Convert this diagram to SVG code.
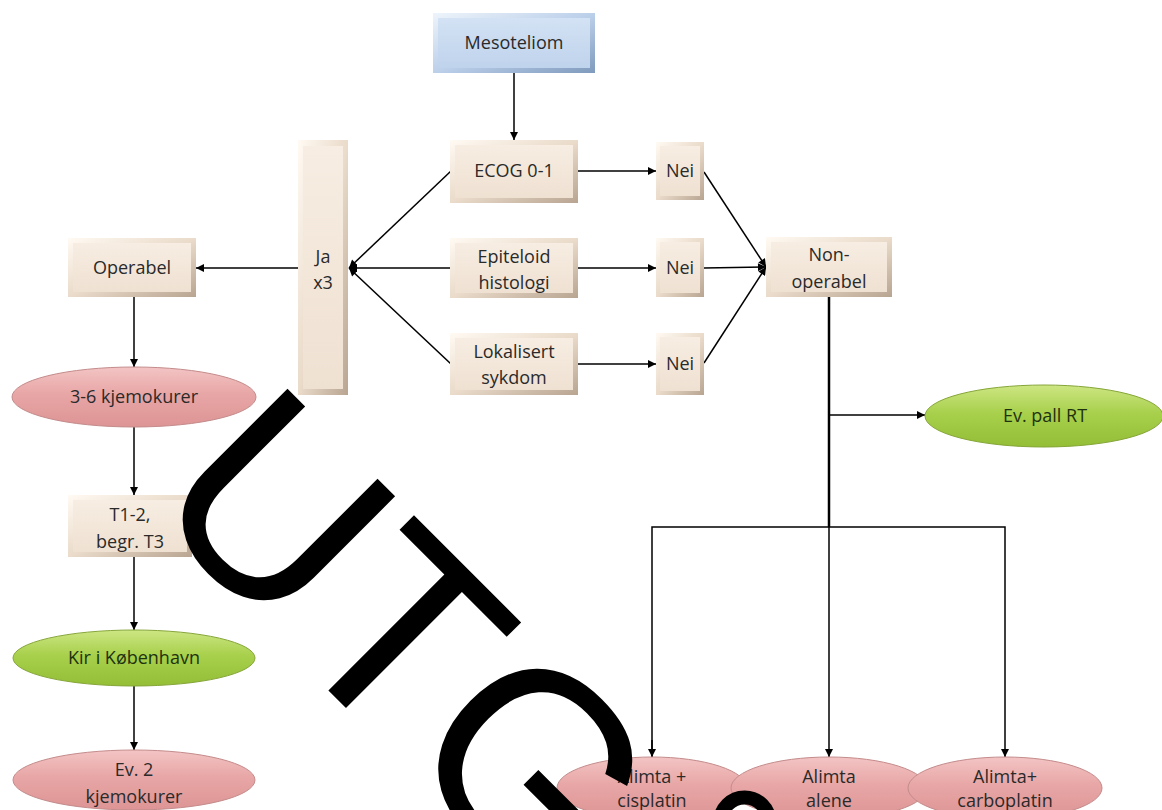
<svg xmlns="http://www.w3.org/2000/svg" width="1162" height="810" viewBox="0 0 1162 810">
<style>
.t{font-family:"Open Sans","Liberation Sans",sans-serif;font-size:18px;fill:#2a2a2a;text-anchor:middle}
.tg{font-family:"Open Sans","Liberation Sans",sans-serif;font-size:18px;fill:#1e3210;text-anchor:middle}
.ln{fill:none;stroke:#000;stroke-width:1.5}
.lnk{fill:none;stroke:#000;stroke-width:2.5}
.bo{fill:url(#bevC)}
.bi{fill:url(#inC)}
.pk{fill:url(#pink);stroke:#c48c8c;stroke-width:1}
.gr{fill:url(#green);stroke:#86a63a;stroke-width:1}
.wm{font-family:"Liberation Sans",Arial,sans-serif;font-size:268px;fill:#000}
</style>
<defs>
<linearGradient id="bevC" x1="0" y1="0" x2="1" y2="1">
<stop offset="0" stop-color="#fffaf3"/><stop offset="0.5" stop-color="#eadbca"/><stop offset="1" stop-color="#b8a491"/>
</linearGradient>
<linearGradient id="inC" x1="0" y1="0" x2="0" y2="1">
<stop offset="0" stop-color="#f7ede2"/><stop offset="1" stop-color="#efe1d2"/>
</linearGradient>
<linearGradient id="bevB" x1="0" y1="0" x2="1" y2="1">
<stop offset="0" stop-color="#eef4fb"/><stop offset="0.5" stop-color="#bcd0ea"/><stop offset="1" stop-color="#7f9abd"/>
</linearGradient>
<linearGradient id="inB" x1="0" y1="0" x2="0" y2="1">
<stop offset="0" stop-color="#d3e2f4"/><stop offset="1" stop-color="#bfd3ec"/>
</linearGradient>
<linearGradient id="pink" x1="0" y1="0" x2="0" y2="1">
<stop offset="0" stop-color="#f3c4c4"/><stop offset="0.45" stop-color="#e8a6a6"/><stop offset="1" stop-color="#dd9494"/>
</linearGradient>
<linearGradient id="green" x1="0" y1="0" x2="0" y2="1">
<stop offset="0" stop-color="#cde683"/><stop offset="0.45" stop-color="#a8d04c"/><stop offset="1" stop-color="#93be36"/>
</linearGradient>
<marker id="ah" viewBox="0 0 10 10" refX="10" refY="5" markerWidth="9" markerHeight="8" markerUnits="userSpaceOnUse" orient="auto">
<path d="M0,0 L10,5 L0,10 z" fill="#000"/>
</marker>
</defs>
<rect width="1162" height="810" fill="#fff"/>

<g id="connectors">
<line class="ln" x1="514" y1="73" x2="514" y2="140" marker-end="url(#ah)"/>
<line class="ln" x1="578" y1="171" x2="656" y2="171" marker-end="url(#ah)"/>
<line class="ln" x1="578" y1="268" x2="656" y2="268" marker-end="url(#ah)"/>
<line class="ln" x1="578" y1="364" x2="656" y2="364" marker-end="url(#ah)"/>
<line class="ln" x1="704" y1="172" x2="766" y2="267" marker-end="url(#ah)"/>
<line class="ln" x1="704" y1="268" x2="766" y2="267" marker-end="url(#ah)"/>
<line class="ln" x1="704" y1="363" x2="766" y2="267" marker-end="url(#ah)"/>
<line class="ln" x1="451" y1="171" x2="349" y2="268" marker-end="url(#ah)"/>
<line class="ln" x1="451" y1="268" x2="349" y2="268" marker-end="url(#ah)"/>
<line class="ln" x1="451" y1="364" x2="349" y2="268" marker-end="url(#ah)"/>
<line class="ln" x1="298" y1="268" x2="196" y2="268" marker-end="url(#ah)"/>
<line class="ln" x1="134" y1="297" x2="134" y2="367" marker-end="url(#ah)"/>
<line class="ln" x1="134" y1="427" x2="134" y2="495" marker-end="url(#ah)"/>
<line class="ln" x1="134" y1="557" x2="134" y2="630" marker-end="url(#ah)"/>
<line class="ln" x1="134" y1="686" x2="134" y2="750" marker-end="url(#ah)"/>
<line class="lnk" x1="829" y1="297" x2="829" y2="527"/>
<line class="ln" x1="829" y1="415" x2="925" y2="415" marker-end="url(#ah)"/>
<polyline class="ln" points="652,757 652,527 1005,527 1005,757" marker-end="url(#ah)"/>
<line class="ln" x1="652" y1="740" x2="652" y2="757" marker-end="url(#ah)"/>
<line class="ln" x1="829" y1="527" x2="829" y2="757" marker-end="url(#ah)"/>
</g>

<g id="n-mesoteliom">
<rect x="433" y="13" width="162" height="60" fill="url(#bevB)"/>
<rect x="438" y="18" width="152" height="50" fill="url(#inB)"/>
<text class="t" x="514" y="49">Mesoteliom</text>
</g>
<g id="n-ecog">
<rect class="bo" x="450" y="140" width="128" height="63"/>
<rect class="bi" x="455" y="145" width="118" height="53"/>
<text class="t" x="514" y="177">ECOG 0-1</text>
</g>
<g id="n-epiteloid">
<rect class="bo" x="450" y="238" width="128" height="60"/>
<rect class="bi" x="455" y="243" width="118" height="50"/>
<text class="t" x="514" y="263">Epiteloid</text>
<text class="t" x="514" y="289">histologi</text>
</g>
<g id="n-lokalisert">
<rect class="bo" x="450" y="333" width="128" height="62"/>
<rect class="bi" x="455" y="338" width="118" height="52"/>
<text class="t" x="514" y="358">Lokalisert</text>
<text class="t" x="514" y="384">sykdom</text>
</g>
<g id="n-nei1">
<rect class="bo" x="656" y="142" width="48" height="58"/>
<rect class="bi" x="660" y="146" width="40" height="50"/>
<text class="t" x="680" y="177">Nei</text>
</g>
<g id="n-nei2">
<rect class="bo" x="656" y="238" width="48" height="59"/>
<rect class="bi" x="660" y="242" width="40" height="51"/>
<text class="t" x="680" y="274">Nei</text>
</g>
<g id="n-nei3">
<rect class="bo" x="656" y="333" width="48" height="62"/>
<rect class="bi" x="660" y="337" width="40" height="54"/>
<text class="t" x="680" y="370">Nei</text>
</g>
<g id="n-nonoperabel">
<rect class="bo" x="766" y="237" width="126" height="60"/>
<rect class="bi" x="771" y="242" width="116" height="50"/>
<text class="t" x="829" y="261">Non-</text>
<text class="t" x="829" y="288">operabel</text>
</g>
<g id="n-ja">
<rect class="bo" x="298" y="140" width="50" height="255"/>
<rect class="bi" x="303" y="146" width="40" height="243"/>
<text class="t" x="323" y="263">Ja</text>
<text class="t" x="323" y="289">x3</text>
</g>
<g id="n-operabel">
<rect class="bo" x="68" y="238" width="128" height="59"/>
<rect class="bi" x="73" y="243" width="118" height="49"/>
<text class="t" x="132" y="274">Operabel</text>
</g>
<g id="n-kjemo1">
<ellipse class="pk" cx="134" cy="397" rx="122" ry="30"/>
<text class="t" x="134" y="403">3-6 kjemokurer</text>
</g>
<g id="n-t12">
<rect class="bo" x="68" y="495" width="124" height="62"/>
<rect class="bi" x="73" y="500" width="114" height="52"/>
<text class="t" x="130" y="521">T1-2,</text>
<text class="t" x="130" y="548">begr. T3</text>
</g>
<g id="n-kir">
<ellipse class="gr" cx="134" cy="658" rx="121" ry="28"/>
<text class="tg" x="134" y="664">Kir i København</text>
</g>
<g id="n-kjemo2">
<ellipse class="pk" cx="134" cy="780" rx="121" ry="30"/>
<text class="t" x="134" y="776">Ev. 2</text>
<text class="t" x="134" y="803">kjemokurer</text>
</g>
<g id="n-pallrt">
<ellipse class="gr" cx="1044" cy="416" rx="119" ry="31"/>
<text class="tg" x="1045" y="422">Ev. pall RT</text>
</g>
<g id="n-cisplatin">
<ellipse class="pk" cx="652" cy="788" rx="95" ry="31"/>
<text class="t" x="652" y="783">Alimta +</text>
<text class="t" x="652" y="807">cisplatin</text>
</g>
<g id="n-alene">
<ellipse class="pk" cx="829" cy="788" rx="98" ry="31"/>
<text class="t" x="829" y="783">Alimta</text>
<text class="t" x="829" y="807">alene</text>
</g>
<g id="n-carboplatin">
<ellipse class="pk" cx="1005" cy="788" rx="97" ry="31"/>
<text class="t" x="1005" y="783">Alimta+</text>
<text class="t" x="1005" y="807">carboplatin</text>
</g>

<g id="watermark">
<text class="wm" x="142.5" y="504.5" transform="rotate(45 142.5 504.5)">UTG<tspan dx="-5" dy="1">ÅTT</tspan></text>
</g>
</svg>
